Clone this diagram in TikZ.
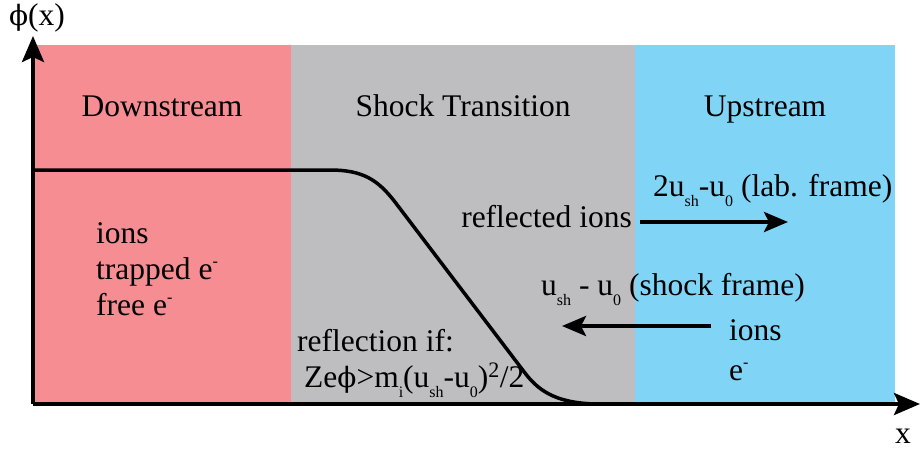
\documentclass[tikz,border=0pt]{standalone}
\usepackage{fontspec}
\setmainfont{Liberation Serif}
\newfontfamily\phifont{DejaVu Serif}
\usetikzlibrary{arrows.meta}
\definecolor{downpink}{HTML}{F58D92}
\definecolor{shockgray}{HTML}{BEBEC0}
\definecolor{upblue}{HTML}{80D5F7}
\newcommand{\sbs}[1]{\raisebox{-0.75ex}{\fontsize{16}{16}\selectfont #1}}
\newcommand{\spm}{\raisebox{0.85ex}{\fontsize{16}{16}\selectfont -}}
\newcommand{\uphi}{{\phifont\fontsize{28}{32}\selectfont ϕ}}
\tikzset{
  lbl/.style={font=\fontsize{31.5}{36}\selectfont, inner sep=0pt},
  axis/.style={line width=4pt, -{Stealth[length=26pt,width=22pt,inset=5pt]}},
  flow/.style={line width=4pt, -{Stealth[length=24pt,width=20pt,inset=5pt]}},
}
\begin{document}
\begin{tikzpicture}[x=1pt,y=-1pt]
\useasboundingbox (0,0) rectangle (920,450);
% regions
\fill[downpink] (35,45) rectangle (291,404);
\fill[shockgray] (291,45) rectangle (635,404);
\fill[upblue] (635,45) rectangle (895,404);
% potential curve
\draw[line width=3.5pt] (35,170) -- (330,170) .. controls (363,170) and (378,180) .. (395,202)
  -- (525,373) .. controls (540,393) and (560,404) .. (600,404);
% axes
\coordinate (o) at (33,404);
\coordinate (ytip) at (33,36);
\coordinate (xtip) at (920,404);
\draw[axis] (o) -- (ytip);
\draw[axis] (o) -- (xtip);
\node[lbl] (ylab) at (37,18) {\uphi(x)};
\node[lbl] (xlab) at (903,436) {x};
% region titles
\node[lbl, anchor=base] (down) at (162,116) {Downstream};
\node[lbl, anchor=base] (shock) at (463,116) {Shock Transition};
\node[lbl, anchor=base] (up) at (765,116) {Upstream};
% downstream contents
\node[lbl, anchor=base west] (dions) at (96,243) {ions};
\node[lbl, anchor=base west] (dtrap) at (96,279) {trapped e\spm};
\node[lbl, anchor=base west] (dfree) at (96,315) {free e\spm};
% reflection condition
\node[lbl, anchor=base west] (refl) at (297,351) {reflection if:};
\node[lbl, anchor=base west] (cond) at (304,387) {Ze\uphi>m\sbs{i}(u\sbs{sh}-u\sbs{0})\textsuperscript{2}/2};
% reflected ions
\node[lbl, anchor=base east] (rions) at (632,227) {reflected ions};
\node[lbl, anchor=base west] (lab) at (653,196) {2u\sbs{sh}-u\sbs{0} (lab. frame)};
\coordinate (ra) at (640,222);
\coordinate (rb) at (788,222);
\draw[flow] (ra) -- (rb);
% incoming
\node[lbl, anchor=base west] (shf) at (541,295) {u\sbs{sh} - u\sbs{0} (shock frame)};
\coordinate (la) at (711,326);
\coordinate (lb) at (562,326);
\draw[flow] (la) -- (lb);
\node[lbl, anchor=base west] (uions) at (729,340) {ions};
\node[lbl, anchor=base west] (ue) at (729,380) {e\spm};
\end{tikzpicture}
\end{document}
